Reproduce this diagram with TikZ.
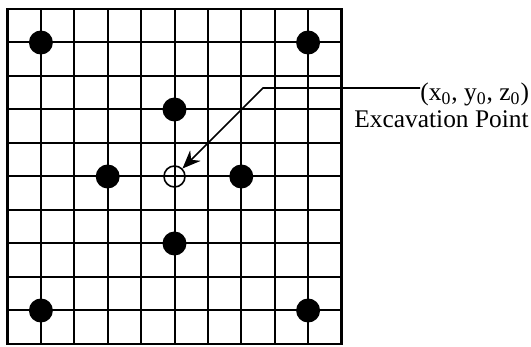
\documentclass[tikz,border=0pt]{standalone}
\usepackage{fontspec}
\setmainfont{Liberation Serif}
\usetikzlibrary{arrows.meta,positioning}
\tikzset{
  >={Stealth[length=3.2mm,width=2.6mm]},
  gridline/.style={draw=black, line width=1pt},
  frameline/.style={draw=black, line width=1.3pt},
  hole/.style={circle, fill=black, minimum size=12pt, inner sep=0pt},
  target/.style={circle, draw=black, line width=0.8pt, fill=none, minimum size=10.5pt, inner sep=0pt},
  lead/.style={->, draw=black, line width=0.8pt},
  lbl/.style={font=\fontsize{12.7}{15}\selectfont, inner sep=0pt},
}
\begin{document}
\begin{tikzpicture}[x=0.5pt,y=-0.5pt]
    \useasboundingbox (0,0) rectangle (531,347);
    % grid of 10 x 10 cells, origin at upper left corner
    \foreach \i in {1,...,9} {
      \draw[gridline] (7.5+33.4*\i,9) -- (7.5+33.4*\i,344);
      \draw[gridline] (7.5,9+33.5*\i) -- (341.5,9+33.5*\i);
    }
    \draw[frameline] (7.5,9) rectangle (341.5,344);
    % charge holes
    \node[hole] (h1) at (7.5+33.4*1,9+33.5*1) {};
    \node[hole] (h2) at (7.5+33.4*9,9+33.5*1) {};
    \node[hole] (h3) at (7.5+33.4*5,9+33.5*3) {};
    \node[hole] (h4) at (7.5+33.4*3,9+33.5*5) {};
    \node[hole] (h5) at (7.5+33.4*7,9+33.5*5) {};
    \node[hole] (h6) at (7.5+33.4*5,9+33.5*7) {};
    \node[hole] (h7) at (7.5+33.4*1,9+33.5*9) {};
    \node[hole] (h8) at (7.5+33.4*9,9+33.5*9) {};
    \node[target] (ep) at (7.5+33.4*5,9+33.5*5) {};
    % labels
    \node[lbl,anchor=base west] (xyz) at (420,101)
      {(x\textsubscript{0}, y\textsubscript{0}, z\textsubscript{0})};
    \node[lbl,anchor=base west] (name) at (354,128) {Excavation Point};
    \coordinate (bend) at (263,88);
    \draw[lead] (xyz.west |- bend) -- (bend) -- (ep.north east);
  \end{tikzpicture}
\end{document}
